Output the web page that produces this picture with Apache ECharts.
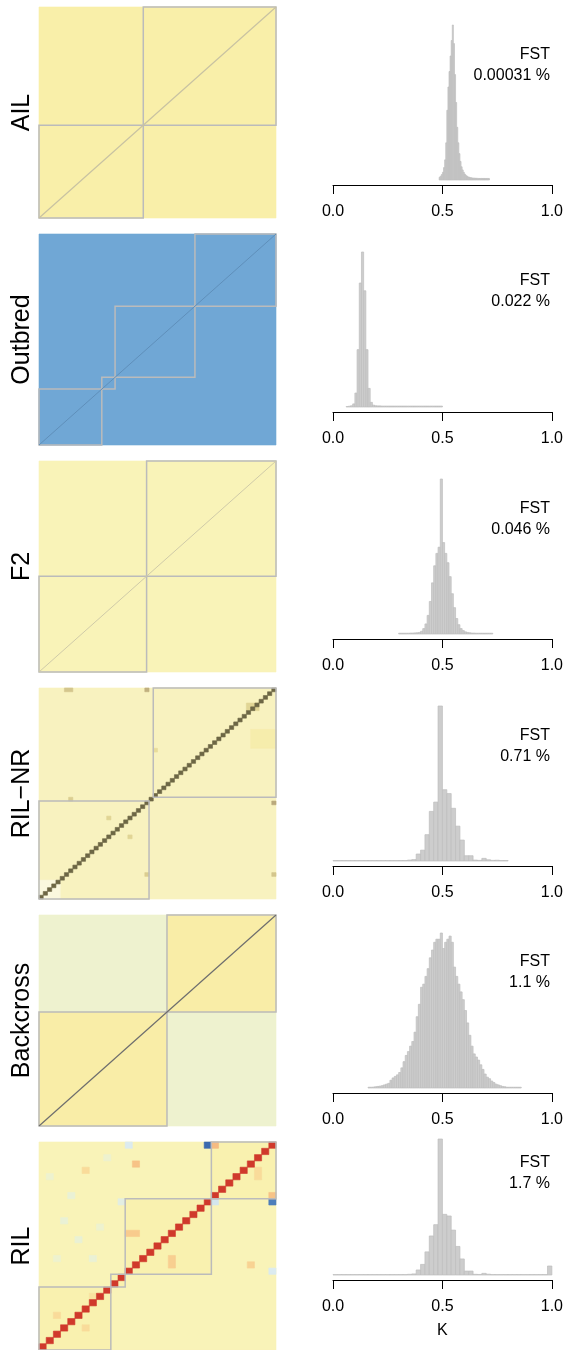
<!doctype html>
<html lang="en">
<head>
<meta charset="utf-8" />
<title>Kinship matrices and K distributions</title>
<script src="https://cdn.jsdelivr.net/npm/echarts@6/dist/echarts.min.js"></script>
<style>
    html, body { margin: 0; padding: 0; background: #fff; }
    #chart { width: 566px; height: 1350px; }
</style>
</head>
<body>
<div id="chart"></div>
<script>
    // populations, top to bottom
    const populations = ['AIL', 'Outbred', 'F2', 'RIL\u2212NR', 'Backcross', 'RIL'];
    const fstText = ['0.00031 %', '0.022 %', '0.046 %', '0.71 %', '1.1 %', '1.7 %'];

    // kinship matrices: size (samples or fraction), family boxes, mean K within / between families
    const matrixSize = [1, 1, 1, 56, 1, 33];
    const ailBoxes = [[0, 0.44], [0.44, 1]];
    const outbredBoxes = [[0, 0.265], [0.265, 0.321], [0.321, 0.658], [0.658, 1]];
    const f2Boxes = [[0, 0.454], [0.454, 1]];
    const rilnrBoxes = [[0, 26], [27, 56]];
    const backcrossBoxes = [[0, 0.54], [0.54, 1]];
    const rilBoxes = [[0, 10], [10, 12], [12, 24], [24, 33]];
    const withinK = [0.55, 0.13, 0.5, 0.5, 0.555, 0.53];
    const betweenK = [0.55, 0.13, 0.5, 0.5, 0.45, 0.5];

    // notable cells [col0, col1, row0, row1, K]
    const rilnrCells = [
        [0, 5, 0, 5, 0.45], [50, 56, 40, 45, 0.54], [6, 8, 55, 56, 0.66], [25, 26, 55, 56, 0.72],
        [7, 8, 26, 27, 0.64], [16, 17, 21, 22, 0.62], [21, 22, 16, 17, 0.62], [55, 56, 25, 26, 0.74],
        [55, 56, 6, 7, 0.66], [25, 26, 6, 7, 0.64], [27, 28, 39, 40, 0.6], [49, 52, 50, 52, 0.62]
    ];
    const rilCells = [
        [23, 24, 32, 33, 0.10], [12, 13, 32, 33, 0.40], [24, 25, 32, 33, 0.68], [32, 33, 23, 24, 0.11],
        [24, 25, 23, 24, 0.38], [32, 33, 24, 25, 0.66], [13, 14, 29, 30, 0.66], [12, 14, 18, 19, 0.64],
        [18, 19, 13, 15, 0.63], [29, 30, 13, 14, 0.62], [32, 33, 12, 13, 0.40], [6, 7, 28, 29, 0.6],
        [30, 31, 27, 29, 0.6], [11, 12, 23, 24, 0.42],
        [3, 4, 20, 21, 0.44], [5, 6, 17, 18, 0.44], [7, 8, 14, 15, 0.44], [2, 3, 14, 15, 0.45],
        [8, 9, 19, 20, 0.45], [4, 5, 24, 25, 0.44], [1, 2, 27, 28, 0.45], [9, 10, 30, 31, 0.45],
        [2, 3, 5, 6, 0.6], [6, 7, 3, 4, 0.6], [7, 8, 8, 9, 0.58]
    ];

    // histograms of K: first bin start, bin width, bar heights (% of tallest bin)
    const histStart = [0.485, 0.06, 0.30, 0, 0.16, 0];
    const histBin = [0.005, 0.01, 0.01, 0.02, 0.01, 0.02];
    const ailHist = [1.8, 2.5, 3.5, 5, 8, 13, 24, 45, 60, 70, 80, 90, 100, 88, 68, 50, 34, 24, 17, 12,
        8.5, 6.5, 5, 3.8, 3, 2.5, 2, 1.8, 1.5, 1.4, 1.3, 1.2, 1.2, 1.1, 1.1, 1, 1, 1, 1, 1, 1, 1, 1, 1, 1, 1];
    const outbredHist = [0.3, 0.5, 0.8, 2, 9, 37, 80, 100, 75, 37, 12, 3, 1.2,
        0.8, 0.7, 0.7, 0.6, 0.6, 0.6, 0.6, 0.6, 0.6, 0.6, 0.6, 0.6, 0.6, 0.6, 0.6, 0.6,
        0.6, 0.6, 0.6, 0.6, 0.6, 0.6, 0.6, 0.6, 0.6, 0.6, 0.6, 0.6, 0.6, 0.6, 0.6];
    const f2Hist = [0.5, 0.5, 0.5, 0.5, 0.5, 0.6, 0.6, 0.7, 0.8,
        1, 1.8, 3.5, 6.5, 12, 21, 33, 44, 52, 56, 100, 59, 52, 46, 37, 26, 17, 10, 6, 3.5, 2.2, 1.4, 1, 0.8,
        0.6, 0.6, 0.5, 0.5, 0.5, 0.5, 0.5, 0.5, 0.5, 0.5];
    const rilnrHist = [0.3, 0.3, 0.3, 0.3, 0.3, 0.3, 0.3, 0.3, 0.3, 0.3, 0.3, 0.3, 0.3, 0.3, 0.3, 0.3, 0.3,
        0.6, 0.9, 4.5, 7, 17, 32, 38, 100, 46, 43.5, 34, 22.5, 13.5, 3.4, 3.4, 0.6, 0.4, 1.7, 0.8, 0.4, 0.5, 0.3, 0.3];
    const backcrossHist = [0.5, 0.5, 0.6, 0.8, 1, 1.2, 1.5, 2, 2.5, 3, 5, 6.5, 7.5, 8.5, 10, 13, 17, 21, 23.5, 27,
        30, 36, 46, 54, 65, 67, 72, 77, 84, 89, 94, 96, 96, 100, 90, 94, 96, 98, 94, 78,
        72, 67, 62, 57, 50, 42, 34, 27, 22, 20, 18, 15, 12, 9, 7, 6, 4.5, 3.5, 2.5, 2,
        1.5, 1, 0.8, 0.5, 0.5, 0.5, 0.5, 0.5, 0.5, 0.5];
    const rilHist = [0.3, 0.3, 0.3, 0.3, 0.3, 0.3, 0.3, 0.3, 0.3, 0.3, 0.3, 0.3, 0.3, 0.3, 0.3, 0.3, 0.3,
        0.5, 0.8, 3.7, 7.8, 17, 28.7, 37, 100, 44.6, 43.4, 33, 21, 11.8, 2.9, 2.9, 0.5, 0.4, 1.2, 0.6,
        0.3, 0.3, 0.3, 0.3, 0.3, 0.3, 0.3, 0.3, 0.3, 0.3, 0.3, 0.3, 0.3, 6.6];
    const xTicks = [0, 0.5, 1];

    // ---- styles / layout ----
    const font = '"Liberation Sans", Arial, Helvetica, sans-serif';
    const kinStops = [[0.10, '#3b6aae'], [0.13, '#70a7d5'], [0.40, '#dcebef'], [0.45, '#eef2cf'],
        [0.50, '#f9f3b8'], [0.55, '#f9efa9'], [0.65, '#f8c78a'], [1.00, '#d0392b']];
    const nrStops = [[0.40, '#fdfcf2'], [0.45, '#faf8de'], [0.50, '#f8f2bf'], [0.56, '#f5eba2'],
        [0.75, '#b7a57a'], [1.00, '#6d6745']];
    const panelStops = [kinStops, kinStops, kinStops, nrStops, kinStops, kinStops];
    const diagLine = [
        { color: '#c8c2a2', width: 1.2 }, { color: '#5f8fba', width: 1 }, { color: '#cfcaa8', width: 1 },
        null, { color: '#6e6e6e', width: 1.2 }, null
    ];
    const boxes = [ailBoxes, outbredBoxes, f2Boxes, rilnrBoxes, backcrossBoxes, rilBoxes];
    const extraCells = [[], [], [], rilnrCells, [], rilCells];
    const hists = [ailHist, outbredHist, f2Hist, rilnrHist, backcrossHist, rilHist];

    const pitch = 227;
    const heatTop = i => 7 + pitch * i;
    const histTop = [25, 252, 479, 706, 933, 1139];
    const histHeight = [155, 155, 155, 155, 155, 136];
    const fstY = [44, 270, 498, 725, 951, 1152];

    let kColor = function (k, stops) {
        if (k <= stops[0][0]) return stops[0][1];
        for (let s = 1; s < stops.length; s++) {
            if (k <= stops[s][0]) {
                let t = (k - stops[s - 1][0]) / (stops[s][0] - stops[s - 1][0]);
                return echarts.color.lerp(t, [stops[s - 1][1], stops[s][1]]);
            }
        }
        return stops[stops.length - 1][1];
    };

    let cellRenderer = function (stops) {
        return function (params, api) {
            let a = api.coord([api.value(0), api.value(2)]);
            let b = api.coord([api.value(1), api.value(3)]);
            let c = kColor(api.value(4), stops);
            return {
                type: 'rect',
                shape: { x: a[0], y: b[1], width: b[0] - a[0], height: a[1] - b[1] },
                style: { fill: c, stroke: c, lineWidth: 0.6 }
            };
        };
    };

    let boxRenderer = function (params, api) {
        let a = api.coord([api.value(0), api.value(0)]);
        let b = api.coord([api.value(1), api.value(1)]);
        return {
            type: 'rect',
            shape: { x: a[0], y: b[1], width: b[0] - a[0], height: a[1] - b[1] },
            style: { fill: 'none', stroke: '#bbbbbb', lineWidth: 1.5 }
        };
    };

    let barRenderer = function (params, api) {
        let a = api.coord([api.value(0), 0]);
        let b = api.coord([api.value(1), api.value(2)]);
        return {
            type: 'rect',
            shape: { x: a[0], y: b[1], width: b[0] - a[0], height: a[1] - b[1] },
            style: { fill: '#cdcdcd', stroke: '#bdbdbd', lineWidth: 0.7 }
        };
    };

    let grids = [], xAxes = [], yAxes = [], series = [], graphics = [];

    for (let i = 0; i < populations.length; i++) {
        let n = matrixSize[i];
        let hg = 2 * i, bg = 2 * i + 1;

        // ---- kinship matrix ----
        grids.push({ left: 39, top: heatTop(i), width: 237, height: 211 });
        xAxes.push({ gridIndex: hg, type: 'value', min: 0, max: n, show: false });
        yAxes.push({
            gridIndex: hg, type: 'value', min: 0, max: n,
            axisLine: { show: false }, axisTick: { show: false }, axisLabel: { show: false }, splitLine: { show: false },
            name: populations[i], nameLocation: 'middle', nameGap: 4, nameRotate: 90,
            nameTextStyle: { fontSize: 25, color: '#000', fontFamily: font }
        });

        let cells = [[0, n, 0, n, betweenK[i]]];
        for (let bx of boxes[i]) cells.push([bx[0], bx[1], bx[0], bx[1], withinK[i]]);
        for (let c of extraCells[i]) cells.push(c);
        if (!diagLine[i]) {
            // self-kinship cells on the diagonal
            for (let d = 0; d < n; d++) cells.push([d, d + 1, d, d + 1, 1]);
        }
        series.push({
            type: 'custom', xAxisIndex: hg, yAxisIndex: hg, silent: true,
            renderItem: cellRenderer(panelStops[i]), data: cells
        });
        if (diagLine[i]) {
            series.push({
                type: 'line', xAxisIndex: hg, yAxisIndex: hg, silent: true, symbol: 'none',
                lineStyle: diagLine[i], data: [[0, 0], [n, n]]
            });
        }
        series.push({
            type: 'custom', xAxisIndex: hg, yAxisIndex: hg, silent: true,
            renderItem: boxRenderer, data: boxes[i]
        });

        // ---- K histogram ----
        grids.push({ left: 333, top: histTop[i], width: 219, height: histHeight[i] });
        xAxes.push({
            gridIndex: bg, type: 'value', min: 0, max: 1, interval: 0.5, offset: 5,
            axisLine: { onZero: false, lineStyle: { color: '#000', width: 1 } },
            axisTick: { length: 9, lineStyle: { color: '#000', width: 1 } },
            axisLabel: {
                margin: 19, fontSize: 16, color: '#000', fontFamily: font,
                showMinLabel: true, showMaxLabel: true,
                formatter: v => xTicks.indexOf(v) >= 0 ? v.toFixed(1) : ''
            },
            splitLine: { show: false },
            name: i === populations.length - 1 ? 'K' : '',
            nameLocation: 'middle', nameGap: 43,
            nameTextStyle: { fontSize: 16, color: '#000', fontFamily: font }
        });
        yAxes.push({ gridIndex: bg, type: 'value', min: 0, max: 100, show: false });

        let bins = hists[i].map(function (h, j) {
            let x0 = +(histStart[i] + j * histBin[i]).toFixed(4);
            return [x0, +(x0 + histBin[i]).toFixed(4), h];
        });
        series.push({
            type: 'custom', xAxisIndex: bg, yAxisIndex: bg, silent: true,
            renderItem: barRenderer, data: bins
        });

        graphics.push({
            type: 'text', x: 550, y: fstY[i], silent: true,
            style: {
                text: 'FST\n' + fstText[i], align: 'right', verticalAlign: 'top',
                font: '16px ' + font, lineHeight: 21, fill: '#000'
            }
        });
    }

    let chart = echarts.init(document.getElementById('chart'));
    chart.setOption({
        animation: false,
        backgroundColor: '#fff',
        grid: grids,
        xAxis: xAxes,
        yAxis: yAxes,
        graphic: graphics,
        series: series
    });
</script>
</body>
</html>
